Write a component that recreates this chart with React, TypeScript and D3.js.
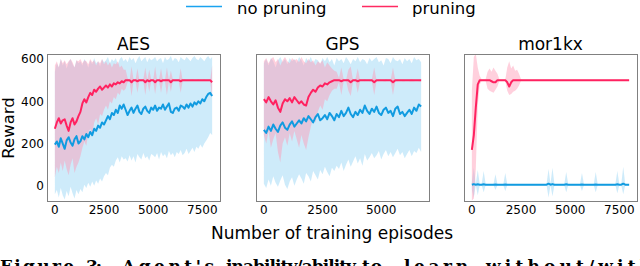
import React from "react";
import * as d3 from "d3";

// ---------- data ----------
const AES_STEP = 100; // episodes between samples
const aesBlueMean = [195,210,185,225,200,175,215,230,205,190,220,235,200,
  210,235,220,245,230,255,240,270,260,285,275,300,290,
  310,330,315,345,335,360,345,380,365,385,
  360,335,355,370,345,365,380,350,340,365,375,355,345,370,360,
  380,355,370,365,385,360,375,390,350,345,365,370,355,380,375,
  365,385,370,390,375,395,385,400,390,410,400,420,435,440,425];
const aesBlueUpper = [540,580,560,600,570,590,555,585,600,575,560,595,580,
  590,570,600,585,560,595,575,605,580,590,565,600,585,
  595,610,580,600,590,605,575,600,610,590,
  600,585,610,595,605,580,600,615,590,600,610,585,605,595,600,
  610,590,600,605,580,610,595,600,615,590,605,600,585,610,600,
  595,610,600,590,605,615,600,595,610,600,590,605,615,600,610];
const aesBlueLower = [-40,-20,-55,-10,-45,-65,-25,-50,-5,-35,-60,-20,-40,
  -15,-30,5,-10,15,-5,20,0,25,10,35,20,45,
  60,50,85,100,90,120,135,110,140,125,
  130,115,145,120,140,110,150,135,125,155,130,140,120,150,145,
  135,155,125,160,140,150,130,165,145,155,135,160,150,170,145,
  155,175,150,165,180,160,185,175,195,180,200,215,230,250,240];
const aesPinkMean = [270,300,320,295,310,315,285,260,300,320,290,305,330,
  350,390,410,395,420,440,430,455,445,460,470,455,465,
  475,465,480,470,485,480,490,485,495,490,
  500,500,500,490,500, 500,495,500,500,500, 490,500,495,500,500, 490,500,500,495,500,
  500,500,500,490,500, 500,500,500,495,500, 500,500,500,500,500, 500,500,500,500,500,
  500,500,500,500,490];
const aesPinkUpper = [570,590,560,600,580,595,575,590,600,585,560,595,590,
  600,580,595,590,575,600,585,595,570,590,580,600,575,
  590,570,585,560,580,575,590,560,570,550,
  550,510,500,565,505, 500,555,500,500,505, 560,500,550,505,500, 565,500,505,555,500,
  500,560,500,545,505, 500,500,500,555,500, 505,500,500,500,505, 500,500,505,500,500,
  505,500,500,500,570];
const aesPinkLower = [40,90,60,110,70,120,80,50,100,130,60,90,110,
  140,180,210,190,250,270,240,300,320,290,340,330,360,
  380,360,400,390,420,410,440,430,460,450,
  460,490,495,425,495, 495,440,495,495,495, 430,495,445,495,495, 435,495,495,440,495,
  495,430,495,445,495, 495,495,495,440,495, 495,495,495,495,495, 495,495,495,495,495,
  495,495,495,495,420];

const GPS_STEP = 100;
const gpsBlueMean = [265,250,280,260,290,270,255,285,300,275,265,290,305,280,295,310,
  295,320,305,330,315,300,325,340,310,320,335,315,345,330,310,
  340,325,355,330,345,370,340,325,350,335,360,345,380,355,340,
  365,350,375,345,335,360,370,345,355,330,365,375,340,350,330,
  345,360,340,370,355,385,375];
const gpsBlueUpper = [580,600,570,605,590,560,595,610,585,600,575,605,590,600,580,610,
  595,570,605,590,610,580,600,595,575,605,590,610,585,600,570,
  605,590,600,580,610,595,575,600,590,610,585,600,595,575,605,
  590,600,610,585,595,570,605,600,580,610,595,590,600,575,605,
  590,600,580,610,595,600,585];
const gpsBlueLower = [10,-10,30,0,45,15,-5,25,50,5,-15,20,40,0,30,55,
  35,10,60,45,20,70,50,30,75,55,90,65,45,85,70,
  95,80,110,70,100,125,90,115,140,105,130,95,150,120,135,
  155,130,145,165,125,150,170,140,160,135,155,175,145,160,130,
  150,170,140,165,155,180,160];
const gpsPinkMean = [410,395,420,400,385,405,370,350,390,410,400,415,395,420,405,390,400,385,380,
  420,440,455,445,465,475,470,485,480,490,495,500,
  500,500,495,500,500, 500,490,500,500,495, 500,500,500,500,500, 500,490,500,500,500,
  500,500,500,500,490, 500,500,500,500,500, 500,500,500,500,500, 500,500];
const gpsPinkUpper = [590,605,580,600,610,585,600,570,595,610,590,580,605,595,600,585,610,590,580,
  600,585,595,570,590,580,595,560,585,570,555,545,
  540,510,560,505,500, 550,565,500,505,555, 500,500,505,500,500, 505,560,500,505,500,
  500,505,500,500,560, 500,505,500,500,500, 500,500,505,500,500, 500,505];
const gpsPinkLower = [240,200,260,180,220,250,160,110,200,230,190,250,210,260,220,180,240,200,170,
  230,280,320,300,350,380,360,410,400,430,450,460,
  460,490,430,495,500, 450,425,495,495,440, 495,500,495,500,495, 495,430,495,495,500,
  495,495,500,495,430, 495,495,500,495,495, 500,495,495,495,500, 495,495];

const MOR_STEP = 100;
const morBlueMean = [5,8,5,7,5,5,7,5,5,5, 5,5,6,5,5,5,5,6,5,5,
  5,5,5,5,5,5,5,5,5,5, 5,5,5,5,5,5,5,5,5,10,
  5,8,5,5,5,5,5,5,7,5, 5,5,5,5,5,5,6,5,5,5,
  5,5,5,6,5,5,5,5,5,5, 5,5,5,5,7,5,5,10,5,5, 5];
const morBlueUpper = [20,85,10,75,8,10,70,10,8,8, 8,8,55,8,8,8,8,60,8,8,
  8,8,8,8,8,8,8,8,8,8, 8,8,8,8,8,8,8,8,8,80,
  10,85,8,8,8,8,8,8,65,8, 8,8,8,8,8,8,60,8,8,8,
  8,8,8,65,8,8,8,8,8,8, 8,8,8,8,70,8,8,90,8,8, 8];
const morBlueLower = [-20,-55,2,-45,2,2,-30,2,2,2, 2,2,-20,2,2,2,2,-25,2,2,
  2,2,2,2,2,2,2,2,2,2, 2,2,2,2,2,2,2,2,2,-55,
  2,-50,2,2,2,2,2,2,-30,2, 2,2,2,2,2,2,-25,2,2,2,
  2,2,2,-30,2,2,2,2,2,2, 2,2,2,2,-35,2,2,-40,2,2, 2];
const morPinkMean = [170,240,370,480,500,500,500,500,500,500,
  495,490,490,500,500,500,500,500,490,470,
  490,500,500,500,500,500,500,500,500,500,
  500,500,500,500,500,500,500,500,500,500,
  500,500,500,500,500,500,500,500,500,500,
  500,500,500,500,500,500,500,500,500,500,
  500,500,500,500,500,500,500,500,500,500,
  500,500,500,500,500,500,500,500,500,500, 500];
const morPinkUpper = [450,610,625,560,520,505,505,505,540,555,
  540,560,545,530,505,503,503,503,560,590,
  555,570,545,550,530,505,502,502,502,502,
  502,502,502,502,502,502,502,502,502,502,
  502,502,502,502,502,502,502,502,502,502,
  502,502,502,502,502,502,502,502,502,502,
  502,502,502,502,502,502,502,502,502,502,
  502,502,502,502,502,502,502,502,502,502, 502];
const morPinkLower = [-70,-60,80,380,480,497,497,497,460,450,
  445,440,455,470,497,497,497,497,450,430,
  435,445,450,460,475,497,498,498,498,498,
  498,498,498,498,498,498,498,498,498,498,
  498,498,498,498,498,498,498,498,498,498,
  498,498,498,498,498,498,498,498,498,498,
  498,498,498,498,498,498,498,498,498,498,
  498,498,498,498,498,498,498,498,498,498, 498];

const yTicks = [0, 200, 400, 600];
const titles = ["AES", "GPS", "mor1kx"];
const xTicksPerPanel = [[0, 2500, 5000, 7500], [0, 2500, 5000], [0, 2500, 5000, 7500]];
const legendLabels = ["no pruning", "pruning"];
const captionWords = ["Figure", "3:", "Agent's", "inability/ability", "to", "learn", "without/with"];
const captionX = [0, 86, 122, 226, 362, 404, 486];
const captionLen = [74, 16, 92, 130, 20, 64, 166];

// ---------- style ----------
const BLUE = "#119be0";
const PINK = "#ff2260";
const FONT = "DejaVu Sans";

type Panel = {
  title: string; step: number; xTicks: number[]; left: number;
  bm: number[]; bu: number[]; bl: number[]; pm: number[]; pu: number[]; pl: number[];
};

const panels: Panel[] = [
  { title: titles[0], step: AES_STEP, xTicks: xTicksPerPanel[0], left: 47,
    bm: aesBlueMean, bu: aesBlueUpper, bl: aesBlueLower, pm: aesPinkMean, pu: aesPinkUpper, pl: aesPinkLower },
  { title: titles[1], step: GPS_STEP, xTicks: xTicksPerPanel[1], left: 256,
    bm: gpsBlueMean, bu: gpsBlueUpper, bl: gpsBlueLower, pm: gpsPinkMean, pu: gpsPinkUpper, pl: gpsPinkLower },
  { title: titles[2], step: MOR_STEP, xTicks: xTicksPerPanel[2], left: 464,
    bm: morBlueMean, bu: morBlueUpper, bl: morBlueLower, pm: morPinkMean, pu: morPinkUpper, pl: morPinkLower },
];

const TOP = 54, BOTTOM = 201, PW = 173;
const y = d3.scaleLinear().domain([-72, 624]).range([BOTTOM, TOP]);

function PanelView({ p, showY }: { p: Panel; showY: boolean }) {
  const n = p.bm.length;
  const maxX = (n - 1) * p.step;
  const pad = maxX * 0.05;
  const x = d3.scaleLinear().domain([-pad, maxX + pad]).range([p.left, p.left + PW]);
  const idx = d3.range(n);
  const area = (u: number[], l: number[]) =>
    d3.area<number>().x(i => x(i * p.step)).y0(i => y(l[i])).y1(i => y(u[i]))(idx) || "";
  const line = (m: number[]) => d3.line<number>().x(i => x(i * p.step)).y(i => y(m[i]))(idx) || "";
  const clipId = "clip-" + p.title;
  return (
    <g>
      <defs>
        <clipPath id={clipId}>
          <rect x={p.left} y={TOP} width={PW} height={BOTTOM - TOP} />
        </clipPath>
      </defs>
      <g clipPath={`url(#${clipId})`}>
        <path d={area(p.bu, p.bl)} fill="rgb(120,200,240)" fillOpacity={0.36} />
        <path d={area(p.pu, p.pl)} fill="rgb(255,150,180)" fillOpacity={0.45} />
        <path d={line(p.bm)} fill="none" stroke={BLUE} strokeWidth={2} strokeLinejoin="round" />
        <path d={line(p.pm)} fill="none" stroke={PINK} strokeWidth={2} strokeLinejoin="round" />
      </g>
      <rect x={p.left + 0.5} y={TOP + 0.5} width={PW} height={BOTTOM - TOP} fill="none" stroke="#808080" strokeWidth={1} />
      <text x={p.left + PW / 2} y={50} textAnchor="middle" fontSize={17} fontFamily={FONT}>{p.title}</text>
      {p.xTicks.map(t => (
        <text key={t} x={x(t)} y={214} textAnchor="middle" fontSize={12} fontFamily={FONT}>{t}</text>
      ))}
      {showY && yTicks.map(t => (
        <text key={t} x={44} y={y(t)} dy="0.36em" textAnchor="end" fontSize={12} fontFamily={FONT}>{t}</text>
      ))}
    </g>
  );
}

export default function App() {
  return (
    <svg width={640} height={266} style={{ position: "absolute", left: 0, top: 0, background: "#fff" }}>
      <rect width={640} height={266} fill="#fff" />
      {/* legend */}
      <line x1={186} x2={222} y1={6.5} y2={6.5} stroke="#1aa3f0" strokeWidth={1.6} />
      <text x={237} y={14} fontSize={16.5} fontFamily={FONT}>{legendLabels[0]}</text>
      <line x1={362} x2={398} y1={6.5} y2={6.5} stroke="#ff2a62" strokeWidth={1.6} />
      <text x={412} y={14} fontSize={16.5} fontFamily={FONT}>{legendLabels[1]}</text>
      {panels.map((p, i) => <PanelView key={p.title} p={p} showY={i === 0} />)}
      <text transform="translate(14,128) rotate(-90)" textAnchor="middle" fontSize={16.5} fontFamily={FONT}>Reward</text>
      <text x={332} y={239} textAnchor="middle" fontSize={17} fontFamily={FONT}>Number of training episodes</text>
      {captionWords.map((w, i) => (
        <text key={i} x={captionX[i]} y={272} fontSize={17} fontWeight="bold" fontFamily="DejaVu Serif"
          textLength={captionLen[i]} lengthAdjust="spacing">{w}</text>
      ))}
    </svg>
  );
}
